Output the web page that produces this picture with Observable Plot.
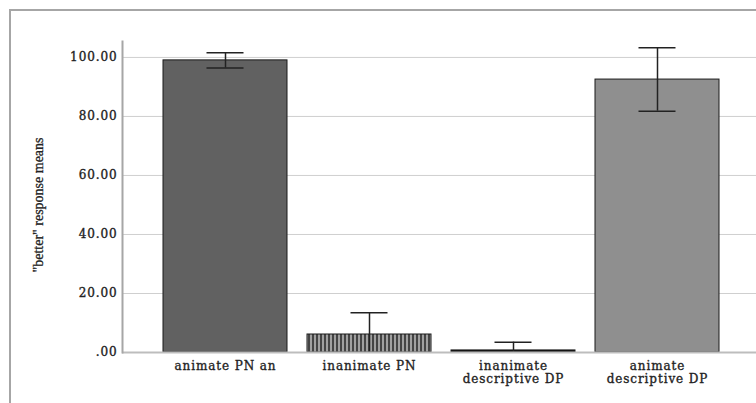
<!DOCTYPE html>
<html>
<head>
<meta charset="utf-8">
<script src="https://cdn.jsdelivr.net/npm/d3@7"></script>
<script src="https://cdn.jsdelivr.net/npm/@observablehq/plot@0.6"></script>
<style>
  html, body { margin: 0; padding: 0; background: #fff; }
  #wrap { position: relative; width: 756px; height: 403px; overflow: hidden; }
  #border { position: absolute; left: 9px; top: 9px; width: 800px; height: 500px;
            border-left: 2px solid #a6a6a6; border-top: 2px solid #a6a6a6; pointer-events: none; }
  svg g.tk text { letter-spacing: 0.9px; stroke: #222; stroke-width: 0.35px; }
  svg g.yl text { stroke: #222; stroke-width: 0.3px; }
</style>
</head>
<body>
<div id="wrap"><div id="border"></div></div>
<script>
const categories = ["animate PN an", "inanimate PN", "inanimate descriptive DP", "animate descriptive DP"];
const tickLabels = ["animate PN an", "inanimate PN", "inanimate\ndescriptive DP", "animate\ndescriptive DP"];
const means = [99.0, 6.1, 0.7, 92.5];
const ciLow = [96.4, -1.3, -2.1, 81.8];
const ciHigh = [101.6, 13.5, 3.5, 103.3];
const fills = ["#616161", "url(#stripes)", "#111111", "#8f8f8f"];
const yTicks = [0, 20, 40, 60, 80, 100];
const yLabel = "\"better\" response means";

const data = categories.map((c, i) => ({cat: c, mean: means[i], lo: ciLow[i], hi: ciHigh[i], fill: fills[i]}));
const labelOf = new Map(categories.map((c, i) => [c, tickLabels[i]]));

const chart = Plot.plot({
  width: 756,
  height: 403,
  marginLeft: 122,
  marginRight: 0,
  marginTop: 41,
  marginBottom: 51,
  style: {fontFamily: "DejaVu Serif", background: "transparent"},
  x: {domain: categories, range: [122, 759], paddingInner: 0.14, paddingOuter: 0.28, axis: null, label: null},
  y: {domain: [0, 105.4], axis: null, label: null},
  marks: [
    Plot.gridY(yTicks.filter(d => d > 0), {stroke: "#cfcfcf", strokeOpacity: 1, strokeWidth: 1}),
    Plot.barY(data, {x: "cat", y: "mean", fill: d => d.fill, stroke: "#1a1a1a", strokeWidth: 1}),
    Plot.ruleX(data, {x: "cat", y1: "lo", y2: "hi", stroke: "#222", strokeWidth: 1.5, clip: true}),
    Plot.tickY(data, {x: "cat", y: "lo", stroke: "#222", strokeWidth: 1.5, insetLeft: 43.5, insetRight: 43.5, clip: true}),
    Plot.tickY(data, {x: "cat", y: "hi", stroke: "#222", strokeWidth: 1.5, insetLeft: 43.5, insetRight: 43.5, clip: true}),
    Plot.ruleY([0], {stroke: "#bdbdbd", strokeWidth: 2}),
    Plot.frame({anchor: "left", stroke: "#a6a6a6", strokeWidth: 2}),
    Plot.axisY({ticks: yTicks, tickSize: 0, tickPadding: 5, fontSize: 12, fill: "#222", label: null,
      fontFamily: "DejaVu Serif",
      tickFormat: d => d === 0 ? ".00" : d.toFixed(2), className: "tk"}),
    Plot.axisX({tickSize: 0, tickPadding: 8, fontSize: 12, fill: "#222", lineHeight: 1.08, label: null,
      fontFamily: "DejaVu Serif",
      tickFormat: d => labelOf.get(d), className: "tk"}),
    Plot.text([yLabel], {text: d => d, frameAnchor: "left", textAnchor: "middle", rotate: -90, dx: -84, dy: 8,
      fontFamily: "Liberation Serif", fontSize: 14, fill: "#222", className: "yl"})
  ]
});

const defs = d3.select(chart).insert("defs", ":first-child");
const pat = defs.append("pattern").attr("id", "stripes").attr("patternUnits", "userSpaceOnUse")
  .attr("width", 4).attr("height", 4);
pat.append("rect").attr("width", 4).attr("height", 4).attr("fill", "#a0a0a0");
pat.append("rect").attr("width", 2).attr("height", 4).attr("fill", "#444");

document.getElementById("wrap").prepend(chart);
</script>
</body>
</html>
